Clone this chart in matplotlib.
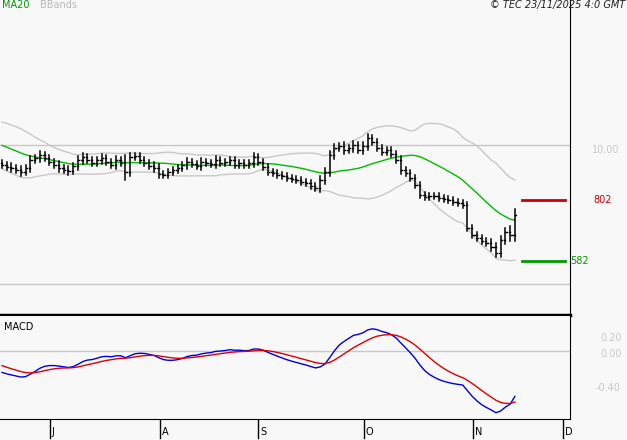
import numpy as np
import pandas as pd
import matplotlib
matplotlib.use("Agg")
import matplotlib.pyplot as plt

# warm-up closes (before visible window, used for indicators)
warmup = [10.30, 10.40, 10.35, 10.50, 10.45,
          10.55, 10.50, 10.60, 10.45, 10.50, 10.40, 10.30, 10.35, 10.20, 10.10,
          10.15, 9.95, 9.90, 9.80, 9.75, 9.70, 9.55, 9.50, 9.40, 9.35]
closes = [9.28, 9.21, 9.17, 9.10, 9.03, 9.17, 9.46, 9.53, 9.64, 9.53,
          9.39, 9.28, 9.17, 9.10, 9.06, 9.24, 9.46, 9.57, 9.46, 9.35,
          9.46, 9.53, 9.39, 9.28, 9.46, 9.35, 9.03, 9.57, 9.60, 9.46,
          9.35, 9.24, 9.17, 8.96, 8.92, 9.03, 9.10, 9.17, 9.28, 9.39,
          9.32, 9.24, 9.39, 9.35, 9.32, 9.46, 9.35, 9.39, 9.46, 9.28,
          9.35, 9.28, 9.35, 9.57, 9.39, 9.21, 9.03, 8.99, 8.92, 8.88,
          8.81, 8.78, 8.74, 8.67, 8.63, 8.52, 8.45, 8.74, 9.03, 9.64,
          9.89, 9.96, 9.82, 9.89, 10.00, 9.82, 9.96, 10.25, 10.11, 9.89,
          9.75, 9.82, 9.68, 9.46, 9.10, 8.99, 8.81, 8.56, 8.20, 8.13,
          8.16, 8.16, 8.09, 8.06, 8.02, 7.95, 7.91, 7.84, 7.01, 6.76,
          6.65, 6.54, 6.47, 6.33, 6.11, 6.58, 6.87, 6.76, 7.48]
wick = [0.12, 0.12, 0.14, 0.12, 0.15, 0.12, 0.15, 0.12, 0.14, 0.12,
        0.12, 0.12, 0.14, 0.12, 0.15, 0.12, 0.14, 0.15, 0.12, 0.12,
        0.12, 0.14, 0.12, 0.12, 0.15, 0.12, 0.30, 0.15, 0.12, 0.12,
        0.12, 0.12, 0.14, 0.15, 0.12, 0.12, 0.12, 0.12, 0.12, 0.14,
        0.12, 0.12, 0.14, 0.12, 0.12, 0.15, 0.12, 0.12, 0.12, 0.12,
        0.12, 0.12, 0.12, 0.15, 0.12, 0.12, 0.12, 0.12, 0.12, 0.12,
        0.10, 0.10, 0.10, 0.10, 0.10, 0.12, 0.12, 0.15, 0.15, 0.15,
        0.15, 0.12, 0.14, 0.12, 0.15, 0.12, 0.14, 0.15, 0.12, 0.12,
        0.12, 0.12, 0.12, 0.12, 0.14, 0.12, 0.12, 0.12, 0.12, 0.12,
        0.10, 0.10, 0.10, 0.10, 0.10, 0.10, 0.10, 0.10, 0.12, 0.12,
        0.12, 0.12, 0.12, 0.14, 0.15, 0.15, 0.15, 0.20, 0.20]
resistance = 8.02
support = 5.82
month_labels = ["J", "A", "S", "O", "N", "D"]
month_pos = [10.1, 33.3, 54.0, 76.2, 99.2, 118.1]

allc = pd.Series(warmup + closes)
ma = allc.rolling(20).mean()
sd = allc.rolling(20).std(ddof=0)
up, lo = ma + 2 * sd, ma - 2 * sd
ema12 = allc.ewm(span=12, adjust=False).mean()
ema26 = allc.ewm(span=26, adjust=False).mean()
macd = ema12 - ema26
sig = macd.ewm(span=9, adjust=False).mean()
n0 = len(warmup)
n = len(closes)
x = np.arange(n)
sl = slice(n0, n0 + n)

bg = "#f8f8f8"
fig = plt.figure(figsize=(6.27, 4.4), dpi=100, facecolor=bg)
ax1 = fig.add_axes([0, 1 - 315 / 440, 570 / 627, 315 / 440], facecolor=bg)
ax2 = fig.add_axes([0, 1 - 419 / 440, 570 / 627, 103 / 440], facecolor=bg)
xl = (-0.42, 119.6)

ax1.axhline(10.0, color="#c8c8c8", lw=1)
ax1.axhline(5.0, color="#c8c8c8", lw=1)
ax1.plot(x, up.values[sl], color="#c8c8c8", lw=1)
ax1.plot(x, lo.values[sl], color="#c8c8c8", lw=1)
ax1.plot(x, ma.values[sl], color="#00bb00", lw=1)
prev = [warmup[-1]] + closes[:-1]
for i in range(n):
    o, c = prev[i], closes[i]
    h = max(o, c) + wick[i]
    l = min(o, c) - wick[i]
    ax1.plot([i, i], [l, h], color="black", lw=1.1)
    ax1.plot([i - 0.3, i], [o, o], color="black", lw=1.0)
    ax1.plot([i, i + 0.3], [c, c], color="black", lw=1.0)
ax1.plot([109.5, 118.5], [resistance, resistance], color="#cc0000", lw=2)
ax1.plot([109.5, 118.5], [support, support], color="#009900", lw=2)
ax1.set_xlim(*xl)
ax1.set_ylim(3.88, 15.22)

ax2.axhline(0, color="#c8c8c8", lw=1)
ax2.plot(x, macd.values[sl], color="#0000dd", lw=1)
ax2.plot(x, sig.values[sl], color="#dd0000", lw=1)
ax2.set_xlim(*xl)
ax2.set_ylim(-0.82, 0.42)

for ax in (ax1, ax2):
    ax.set_xticks([]); ax.set_yticks([])
    for s in ("left", "top"):
        ax.spines[s].set_visible(False)
    ax.spines["right"].set_color("black")
ax1.spines["bottom"].set_linewidth(2.5)

W, H = 627, 440
def ft(px, py, s, **kw):
    fig.text(px / W, 1 - py / H, s, **kw)

ft(2, 5, "MA20", color="#009900", fontsize=7, va="center")
ft(40, 5, "BBands", color="#b8b8b8", fontsize=7, va="center")
ft(625, 5, "© TEC 23/11/2025 4:0 GMT", color="#222222", fontsize=7,
   style="italic", ha="right", va="center")
ft(4, 327, "MACD", color="black", fontsize=7, va="center")
ft(592, 150, "10.00", color="#c8c8c8", fontsize=7, va="center")
ft(593, 200, f"{resistance*100:.0f}", color="#cc0000", fontsize=7, va="center")
ft(570, 261, f"{support*100:.0f}", color="#009900", fontsize=7, va="center")
ft(600, 338, "0.20", color="#c8c8c8", fontsize=7, va="center")
ft(600, 354, "0.00", color="#c8c8c8", fontsize=7, va="center")
ft(596, 388, "-0.40", color="#c8c8c8", fontsize=7, va="center")
for lab, p in zip(month_labels, month_pos):
    px = (p - xl[0]) / (xl[1] - xl[0]) * 570
    fig.add_artist(plt.Line2D([px / W, px / W], [1 - 420 / H, 1 - 438 / H],
                              color="black", lw=1))
    ft(px + 2, 432, lab, color="black", fontsize=7, va="center")

fig.savefig("out.png", dpi=100, facecolor=bg)
